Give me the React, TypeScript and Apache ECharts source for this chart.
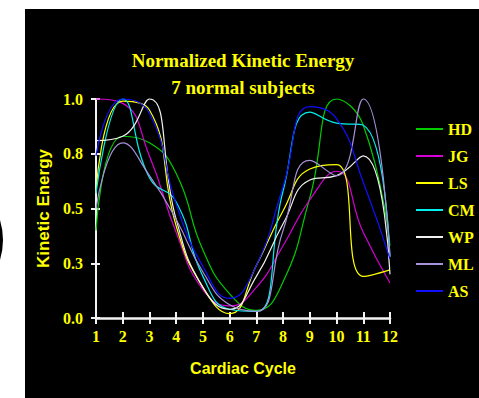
import React, { useEffect, useRef } from "react";
import * as echarts from "echarts";

const cycle = [1, 2, 3, 4, 5, 6, 7, 8, 9, 10, 11, 12];
const subjects = ["HD", "JG", "LS", "CM", "WP", "ML", "AS"];

const HD = [0.40, 0.83, 0.80, 0.66, 0.31, 0.11, 0.035, 0.165, 0.55, 1.0, 0.88, 0.33];
const JG = [1.0, 0.98, 0.74, 0.39, 0.13, 0.055, 0.14, 0.33, 0.54, 0.67, 0.39, 0.16];
const LS = [0.58, 0.99, 0.95, 0.42, 0.14, 0.02, 0.24, 0.49, 0.68, 0.70, 0.19, 0.22];
const CM = [0.57, 1.0, 0.64, 0.53, 0.19, 0.04, 0.03, 0.58, 0.94, 0.89, 0.88, 0.28];
const WP = [0.81, 0.83, 1.0, 0.45, 0.14, 0.04, 0.19, 0.43, 0.63, 0.65, 0.74, 0.20];
const ML = [0.50, 0.80, 0.65, 0.45, 0.21, 0.06, 0.03, 0.40, 0.72, 0.65, 1.0, 0.28];
const AS = [0.74, 1.0, 0.935, 0.52, 0.235, 0.09, 0.24, 0.60, 0.965, 0.91, 0.62, 0.27];

const seriesValues = [HD, JG, LS, CM, WP, ML, AS];
const seriesColors = ["#00cc00", "#d400d4", "#ffff00", "#00f0f0", "#f0f0f0", "#a592d8", "#1010ff"];

const yTicks = [0, 0.25, 0.5, 0.75, 1.0];
const yTickLabels = ["0.0", "0.3", "0.5", "0.8", "1.0"];

const titleLines = ["Normalized Kinetic Energy", "7 normal subjects"];

const YELLOW = "#ffff00";
const SERIF = "'Liberation Serif', 'Times New Roman', serif";
const SANS = "'Liberation Sans', Arial, sans-serif";
const AXIS_COLOR = "#f2f2f2";

export default function App() {
  const ref = useRef<HTMLDivElement>(null);

  useEffect(() => {
    if (!ref.current) return;
    const chart = echarts.init(ref.current, undefined, { renderer: "svg" });

    const yLabel = (v: number) => {
      const i = yTicks.findIndex((t) => Math.abs(t - v) < 1e-6);
      return i >= 0 ? yTickLabels[i] : "";
    };

    const commonX = {
      type: "value" as const,
      min: 1,
      max: 12,
      interval: 1,
      position: "bottom" as const,
      splitLine: { show: false },
    };
    const commonY = {
      type: "value" as const,
      min: 0,
      max: 1,
      interval: 0.25,
      position: "left" as const,
      splitLine: { show: false },
    };

    chart.setOption({
      animation: false,
      backgroundColor: "#ffffff",
      grid: { left: 96, top: 99, width: 294, height: 219, containLabel: false },
      graphic: [
        {
          type: "rect",
          z: -10,
          shape: { x: 25, y: 9, width: 454, height: 389 },
          style: { fill: "#000000" },
        },
        {
          type: "circle",
          z: -10,
          shape: { cx: -65, cy: 240, r: 66 },
          style: { fill: "none", stroke: "#000000", lineWidth: 4 },
        },
        ...titleLines.map((t, i) => ({
          type: "text",
          z: 10,
          style: {
            x: 243,
            y: 60 + i * 27,
            text: t,
            fill: YELLOW,
            font: `bold 19px ${SERIF}`,
            align: "center",
            verticalAlign: "middle",
          },
        })),
      ],
      legend: {
        data: subjects,
        orient: "vertical",
        left: 416,
        top: 121,
        padding: 0,
        icon: "path://M0,0L27,0L27,2L0,2Z",
        itemWidth: 27,
        itemHeight: 2,
        itemGap: 11,
        textStyle: { color: YELLOW, fontFamily: SERIF, fontWeight: "bold", fontSize: 16 },
      },
      xAxis: [
        {
          ...commonX,
          name: "Cardiac Cycle",
          nameLocation: "middle",
          nameGap: 42,
          nameTextStyle: { color: YELLOW, fontFamily: SANS, fontWeight: "bold", fontSize: 16 },
          axisLine: { show: true, onZero: false, lineStyle: { color: AXIS_COLOR, width: 2.5 } },
          axisTick: { show: true, inside: true, length: 6, lineStyle: { color: AXIS_COLOR, width: 2 } },
          axisLabel: {
            color: YELLOW,
            fontFamily: SERIF,
            fontWeight: "bold",
            fontSize: 16,
            margin: 10,
          },
        },
        {
          ...commonX,
          axisLine: { show: false, onZero: false },
          axisTick: { show: true, inside: false, length: 6, lineStyle: { color: AXIS_COLOR, width: 2 } },
          axisLabel: { show: false },
        },
      ],
      yAxis: [
        {
          ...commonY,
          name: "Kinetic Energy",
          nameLocation: "middle",
          nameGap: 42,
          nameTextStyle: { color: YELLOW, fontFamily: SANS, fontWeight: "bold", fontSize: 17 },
          axisLine: { show: true, onZero: false, lineStyle: { color: AXIS_COLOR, width: 2 } },
          axisTick: { show: true, inside: true, length: 4, lineStyle: { color: AXIS_COLOR, width: 2 } },
          axisLabel: {
            color: YELLOW,
            fontFamily: SERIF,
            fontWeight: "bold",
            fontSize: 16,
            margin: 13,
            formatter: yLabel,
          },
        },
        {
          ...commonY,
          axisLine: { show: false, onZero: false },
          axisTick: { show: true, inside: false, length: 5, lineStyle: { color: AXIS_COLOR, width: 2 } },
          axisLabel: { show: false },
        },
      ],
      series: subjects.map((name, si) => ({
        name,
        type: "line",
        xAxisIndex: 0,
        yAxisIndex: 0,
        data: cycle.map((x, i) => [x, seriesValues[si][i]]),
        smooth: 0.5,
        symbol: "none",
        showSymbol: false,
        clip: false,
        color: seriesColors[si],
        lineStyle: { color: seriesColors[si], width: 1.2 },
      })),
    });

    return () => chart.dispose();
  }, []);

  return (
    <div
      ref={ref}
      style={{ position: "absolute", left: 0, top: 0, width: 479, height: 398 }}
    />
  );
}
